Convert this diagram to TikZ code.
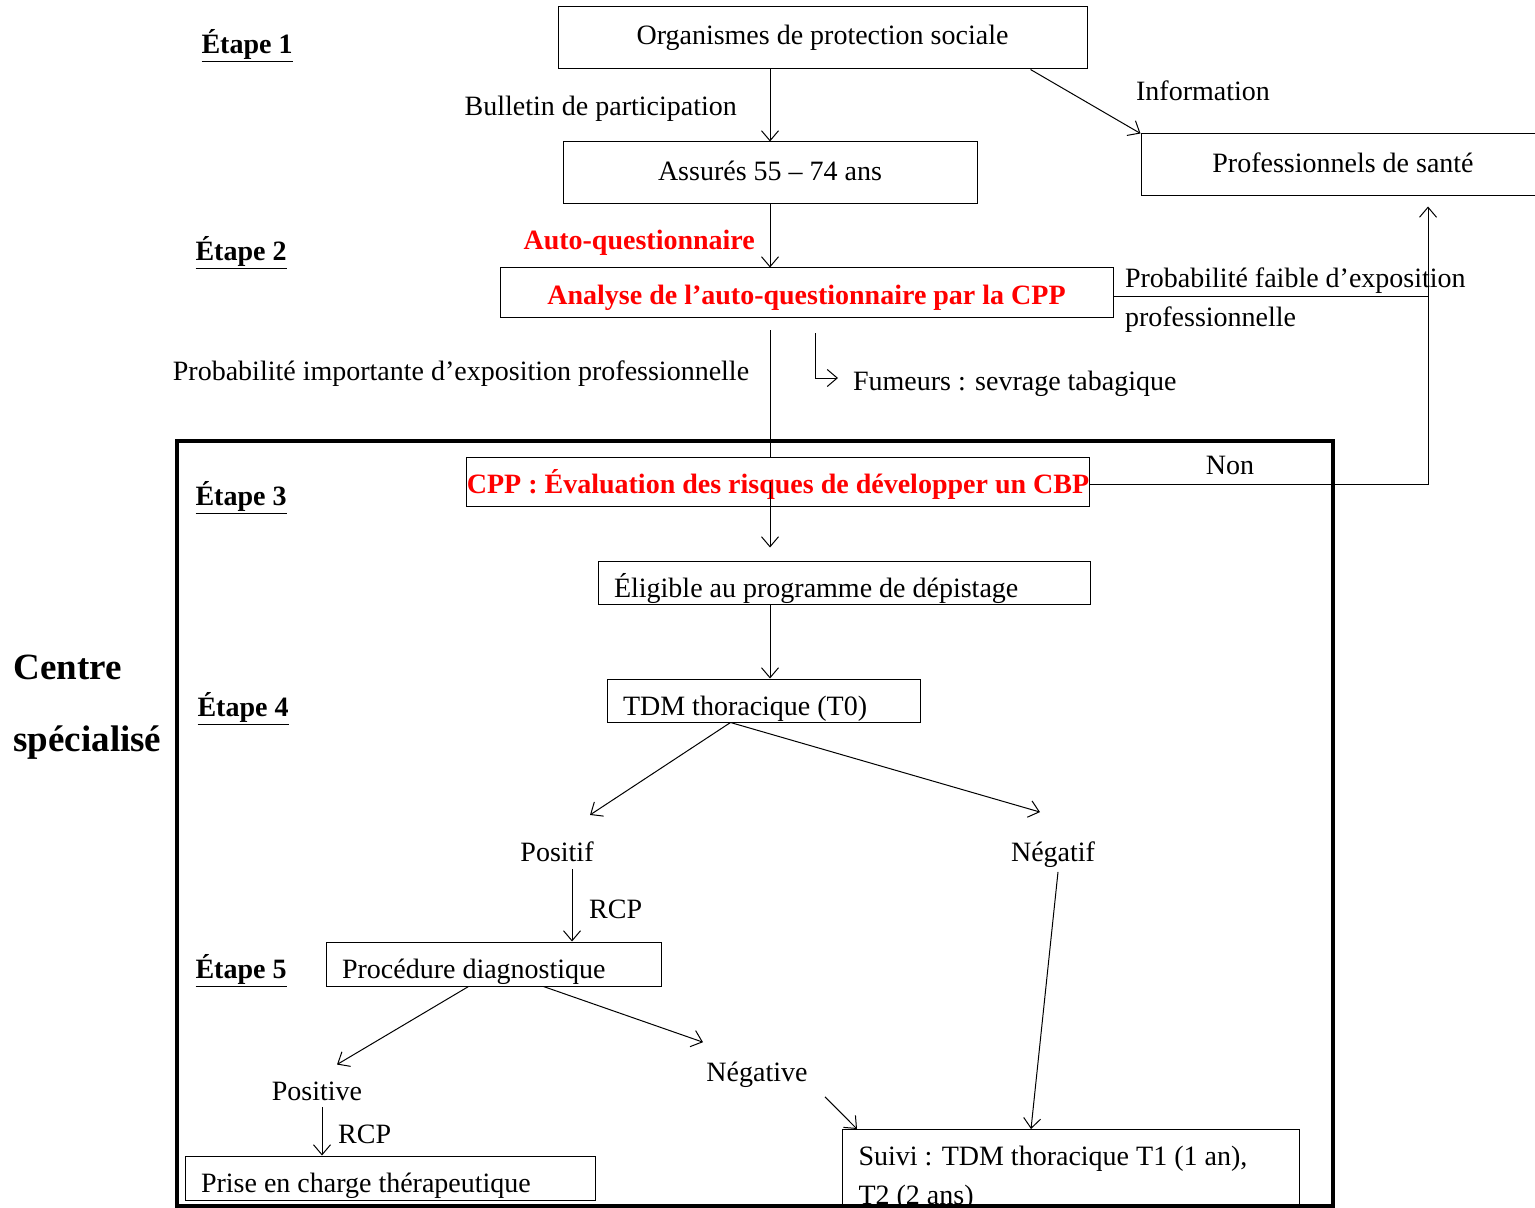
\documentclass[tikz,border=0pt]{standalone}
\usepackage{fontspec}
\setmainfont{Liberation Serif}
\usetikzlibrary{arrows.meta, positioning, calc}
\definecolor{cppred}{RGB}{255, 0, 0}

\begin{document}
\begin{tikzpicture}[x=0.5pt, y=-0.5pt,
    every node/.style={font=\fontsize{14}{19.5}\selectfont},
    box/.style={rectangle, draw, line width=0.5pt, inner sep=0pt, align=center},
    lbox/.style={rectangle, draw, line width=0.5pt, inner xsep=8pt, inner ysep=0pt, align=flush left,
                 text height=16.5pt, text depth=2pt},
    etape/.style={font=\fontsize{14}{17}\selectfont\bfseries},
    redtext/.style={text=cppred, font=\fontsize{14}{17}\selectfont\bfseries},
    redbox/.style={box, redtext, text height=14pt, text depth=2pt},
    bigtext/.style={font=\fontsize{18.5}{22}\selectfont\bfseries, anchor=west, inner xsep=0pt},
    arr/.style={-{Straight Barb[length=5pt, width=8.5pt]}, line width=0.5pt},
    link/.style={line width=0.5pt}]
    \useasboundingbox (0,0) rectangle (1535,1208);

    % Frame
    \draw[line width=2pt] (177,441) rectangle (1333,1206);

    % Steps
    \node[etape] (et1) at (247,46) {\underline{Étape 1}};
    \node[etape] (et2) at (241,253) {\underline{Étape 2}};
    \node[etape] (et3) at (241,498) {\underline{Étape 3}};
    \node[etape] (et4) at (243,709) {\underline{Étape 4}};
    \node[etape] (et5) at (241,971) {\underline{Étape 5}};
    \node[bigtext] (centre) at (13,667) {Centre};
    \node[bigtext] (specialise) at (13,743) {spécialisé};

    % Boxes
    \node[box, minimum width=264.5pt, minimum height=31pt] (orga) at (822.5,38) {Organismes de protection sociale};
    \node[box, minimum width=207pt, minimum height=31pt] (assures) at (770,173) {\raisebox{2.5pt}{Assurés 55 – 74 ans}};
    \node[box, minimum width=202pt, minimum height=31pt] (pros) at (1343,165) {\raisebox{2.5pt}{Professionnels de santé}};
    \node[redbox, minimum width=306.5pt, minimum height=25pt] (analyse) at (806.5,293) {Analyse de l’auto-questionnaire par la CPP};
    \node[redbox, minimum width=307pt, minimum height=24.5pt] (cpp) at (778,481.5) {CPP : Évaluation des risques de développer un CBP};
    \node[lbox, text width=230pt, minimum height=21.5pt] (elig) at (844,582.5) {Éligible au programme de dépistage};
    \node[lbox, text width=140.5pt, minimum height=21.5pt] (tdm) at (763.5,700.5) {TDM thoracique (T0)};
    \node[lbox, text width=151.5pt, minimum height=22pt] (proc) at (493.5,964) {Procédure diagnostique};
    \node[lbox, text width=189pt, minimum height=22pt] (prise) at (390,1178) {Prise en charge thérapeutique};
    \node[rectangle, draw, line width=0.5pt, inner xsep=8pt, inner ysep=8.5pt, align=flush left,
          text width=212.5pt, anchor=north west] (suivi) at (842,1129) {Suivi : TDM thoracique T1 (1 an),\\T2 (2 ans)};

    % Labels
    \node (information) at (1203,91) {Information};
    \node[align=left, anchor=west] (faible) at (1118,300.5) {Probabilité faible d’exposition\\professionnelle};
    \node (importante) at (461,374) {Probabilité importante d’exposition professionnelle};
    \node[anchor=west] (fumeurs) at (846,384) {Fumeurs : sevrage tabagique};
    \node (non) at (1230,465) {Non};
    \node (positif) at (557,852) {Positif};
    \node (negatif) at (1053,855) {Négatif};
    \node (positive) at (317,1091) {Positive};
    \node (negative) at (757,1075) {Négative};

    % Arrows
    \coordinate (spine) at (770,0);
    \coordinate (join) at (1428,484);
    \draw[arr] (orga.south -| assures.north) -- node[left=13pt, yshift=-1.5pt]{Bulletin de participation} (assures.north);
    \draw[arr] ($(orga.south east)+(-57,0)$) -- (pros.north west);
    \draw[arr] (assures.south) -- node[left=4pt, yshift=-3.5pt, redtext]{Auto-questionnaire} (analyse.north -| assures.south);
    \draw[link, shorten <=6pt] (analyse.south -| spine) -- (cpp.north -| spine);
    \draw[arr, shorten >=4pt] ($(analyse.south)+(9,15)$) |- ($(fumeurs.west)+(0,-6)$);
    \draw[link] ($(analyse.east)+(0,4)$) -- ($(analyse.east -| join)+(0,4)$);
    \draw[arr, shorten >=5pt] (cpp.east |- join) -- (join) -- (join |- pros.south);
    \draw[arr, shorten >=6.5pt] (cpp.center -| spine) -- (elig.north -| spine);
    \draw[arr] (elig.south -| spine) -- (tdm.north -| spine);
    \draw[arr] ($(tdm.south)+(-33,0)$) -- ($(positif.north)+(33,-20)$);
    \draw[arr] ($(tdm.south)+(-33,0)$) -- ($(negatif.north)+(-13,-23)$);
    \draw[arr] ($(positif.south)+(15,0)$) -- node[right=5pt, yshift=-2pt]{RCP} ($(proc.north)+(78.5,0)$);
    \draw[arr] ($(negatif.south)+(5,-3)$) -- ($(suivi.north west)+(189,0)$);
    \draw[arr] ($(proc.south)+(-25,0)$) -- ($(positive.north)+(20,-10)$);
    \draw[arr] ($(proc.south)+(50,0)$) -- ($(negative.north)+(-54,-13)$);
    \draw[arr] ($(negative.south)+(68,2)$) -- ($(suivi.north west)+(15,0)$);
    \draw[arr] ($(positive.south)+(5,0)$) -- node[right=4.5pt, yshift=-1.5pt]{RCP} ($(prise.north)+(-68,0)$);
\end{tikzpicture}
\end{document}
